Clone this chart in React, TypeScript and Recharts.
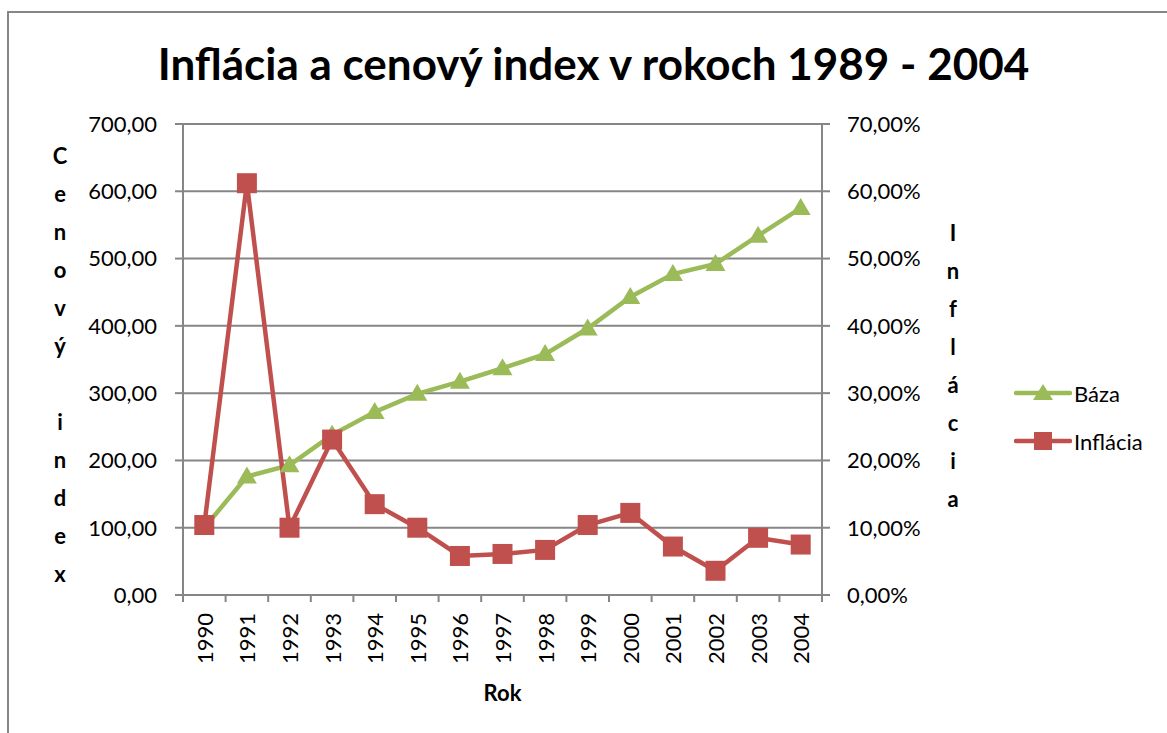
import React from 'react';
import { ComposedChart, Line, XAxis, YAxis, CartesianGrid, Legend, Label } from 'recharts';

const years = ['1990', '1991', '1992', '1993', '1994', '1995', '1996', '1997', '1998', '1999', '2000', '2001', '2002', '2003', '2004'];
// cenový index (báza 1990 = 100)
const baza = [100, 176, 193, 238, 272, 299, 317, 337, 358, 396, 443, 477, 492, 534, 575];
// inflácia v %
const inflacia = [10.4, 61.2, 10.0, 23.1, 13.5, 10.0, 5.8, 6.1, 6.7, 10.4, 12.2, 7.2, 3.6, 8.5, 7.5];

const leftTicks = [0, 100, 200, 300, 400, 500, 600, 700];
const rightTicks = [0, 10, 20, 30, 40, 50, 60, 70];

const GREEN = '#9BBB59';
const RED = '#C0504D';
const GREY = '#868686';
const FONT = 'Lato, "Open Sans", sans-serif';

const data = years.map((year, i) => ({ year, baza: baza[i], inflacia: inflacia[i] }));

const fmtLeft = (v: number) => v.toFixed(2).replace('.', ',');
const fmtRight = (v: number) => v.toFixed(2).replace('.', ',') + '%';

const Triangle = (props: any) => {
    const { cx, cy, index } = props;
    if (cx == null || cy == null) return null;
    return <polygon key={`t-${index}`} points={`${cx},${cy - 10} ${cx + 10},${cy + 7} ${cx - 10},${cy + 7}`} fill={GREEN} />;
};

const Square = (props: any) => {
    const { cx, cy, index } = props;
    if (cx == null || cy == null) return null;
    return <rect key={`s-${index}`} x={cx - 10} y={cy - 10} width={20} height={20} fill={RED} />;
};

// year labels rotated, tick marks between categories (Excel style)
const YearTick = (props: any) => {
    const { x, y, payload, index } = props;
    const off = payload.offset || 0;
    const last = index === years.length - 1;
    return (
        <g>
            <line x1={x - off} y1={y} x2={x - off} y2={y + 7} stroke={GREY} strokeWidth={2} />
            {last && <line x1={x + off} y1={y} x2={x + off} y2={y + 7} stroke={GREY} strokeWidth={2} />}
            <text
                x={x}
                y={y + 18}
                transform={`rotate(-90, ${x}, ${y + 18})`}
                textAnchor="end"
                dominantBaseline="central"
                fontFamily={FONT}
                fontSize={22}
                fill="#000"
            >
                {payload.value}
            </text>
        </g>
    );
};

const StackedTitle = ({ letters, x, cy }: { letters: string[]; x: number; cy: number }) => {
    const step = 38;
    const start = cy - ((letters.length - 1) * step) / 2;
    return (
        <text fontFamily={FONT} fontSize={22} fontWeight="bold" fill="#000" textAnchor="middle" dominantBaseline="central">
            {letters.map((ch, i) => (
                <tspan key={i} x={x} y={start + i * step}>{ch === ' ' ? '\u00a0' : ch}</tspan>
            ))}
        </text>
    );
};

const LegendBox = () => {
    const items = [
        { name: 'Báza', color: GREEN, shape: 'tri' },
        { name: 'Inflácia', color: RED, shape: 'sq' },
    ];
    return (
        <div style={{ fontFamily: FONT, fontSize: 22 }}>
            {items.map(it => (
                <div key={it.name} style={{ display: 'flex', alignItems: 'center', height: 48 }}>
                    <svg width={58} height={24}>
                        <line x1={2} y1={12} x2={56} y2={12} stroke={it.color} strokeWidth={4.5} strokeLinecap="round" />
                        {it.shape === 'tri'
                            ? <polygon points="29,3 39,19 19,19" fill={it.color} />
                            : <rect x={20} y={3} width={18} height={18} fill={it.color} />}
                    </svg>
                    <span style={{ marginLeft: 2 }}>{it.name}</span>
                </div>
            ))}
        </div>
    );
};

export default function App() {
    return (
        <div style={{ position: 'absolute', left: 0, top: 0, width: 1167, height: 733, overflow: 'hidden', background: '#fff' }}>
            <div style={{ position: 'absolute', left: 7, top: 11, width: 1300, height: 900, border: `2px solid ${GREY}` }} />
            <div
                style={{
                    position: 'absolute', left: 0, top: 36, width: 1187, textAlign: 'center',
                    fontFamily: FONT, fontWeight: 'bold', fontSize: 44, color: '#000', lineHeight: '54px',
                }}
            >
                Inflácia a cenový index v rokoch 1989 - 2004
            </div>
            <div style={{ position: 'absolute', left: 0, top: 0 }}>
                <ComposedChart width={1167} height={733} data={data} margin={{ top: 124, right: 200, bottom: 28, left: 40 }}>
                    <CartesianGrid yAxisId="left" vertical={false} stroke={GREY} strokeWidth={2} />
                    <XAxis
                        dataKey="year"
                        scale="band"
                        height={110}
                        axisLine={{ stroke: GREY, strokeWidth: 2 }}
                        tickLine={false}
                        tickSize={0}
                        tickMargin={0}
                        interval={0}
                        tick={<YearTick />}
                    >
                        <Label
                            content={(p: any) => (
                                <text
                                    x={p.viewBox.x + p.viewBox.width / 2}
                                    y={p.viewBox.y + 97}
                                    textAnchor="middle"
                                    dominantBaseline="central"
                                    fontFamily={FONT}
                                    fontSize={22}
                                    fontWeight="bold"
                                >
                                    Rok
                                </text>
                            )}
                        />
                    </XAxis>
                    <YAxis
                        yAxisId="left"
                        width={143}
                        domain={[0, 700]}
                        ticks={leftTicks}
                        tickFormatter={fmtLeft}
                        axisLine={{ stroke: GREY, strokeWidth: 2 }}
                        tickLine={{ stroke: GREY, strokeWidth: 2 }}
                        tickSize={8}
                        tickMargin={18}
                        tick={{ fill: '#000', fontFamily: FONT, fontSize: 22 }}
                    >
                        <Label
                            content={(p: any) => (
                                <StackedTitle
                                    letters={['C', 'e', 'n', 'o', 'v', 'ý', ' ', 'i', 'n', 'd', 'e', 'x']}
                                    x={p.viewBox.x + 20}
                                    cy={p.viewBox.y + p.viewBox.height / 2 + 4}
                                />
                            )}
                        />
                    </YAxis>
                    <YAxis
                        yAxisId="right"
                        orientation="right"
                        width={145}
                        domain={[0, 70]}
                        ticks={rightTicks}
                        tickFormatter={fmtRight}
                        axisLine={{ stroke: GREY, strokeWidth: 2 }}
                        tickLine={{ stroke: GREY, strokeWidth: 2 }}
                        tickSize={8}
                        tickMargin={17}
                        tick={{ fill: '#000', fontFamily: FONT, fontSize: 22 }}
                    >
                        <Label
                            content={(p: any) => (
                                <StackedTitle
                                    letters={['I', 'n', 'f', 'l', 'á', 'c', 'i', 'a']}
                                    x={p.viewBox.x + 131}
                                    cy={p.viewBox.y + p.viewBox.height / 2 + 5}
                                />
                            )}
                        />
                    </YAxis>
                    <Legend
                        layout="horizontal"
                        align="center"
                        verticalAlign="middle"
                        wrapperStyle={{ left: 1014, top: 369, width: 150 }}
                        content={() => <LegendBox />}
                    />
                    <Line
                        yAxisId="left"
                        dataKey="baza"
                        name="Báza"
                        stroke={GREEN}
                        strokeWidth={4.5}
                        dot={Triangle}
                        activeDot={false}
                        isAnimationActive={false}
                    />
                    <Line
                        yAxisId="right"
                        dataKey="inflacia"
                        name="Inflácia"
                        stroke={RED}
                        strokeWidth={4.5}
                        dot={Square}
                        activeDot={false}
                        isAnimationActive={false}
                    />
                </ComposedChart>
            </div>
        </div>
    );
}
